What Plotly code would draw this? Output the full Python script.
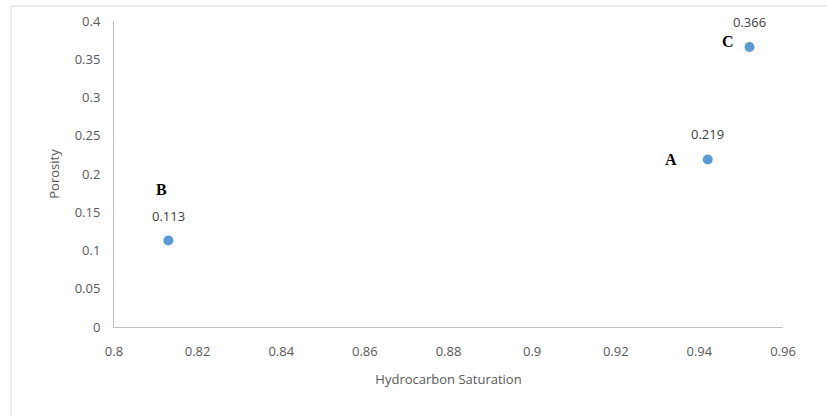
import plotly.graph_objects as go

names = ["A", "B", "C"]
saturation = [0.942, 0.813, 0.952]
porosity = [0.219, 0.113, 0.366]
value_labels = ["0.219", "0.113", "0.366"]
x_ticks = [0.8, 0.82, 0.84, 0.86, 0.88, 0.9, 0.92, 0.94, 0.96]
y_ticks = [0, 0.05, 0.1, 0.15, 0.2, 0.25, 0.3, 0.35, 0.4]

# letter offsets (pixels) relative to each point
letter_shift = {"A": (-37, 0), "B": (-7, 51), "C": (-22, 6)}

fig = go.Figure()
fig.add_trace(go.Scatter(
    x=saturation, y=porosity, mode="markers",
    marker=dict(size=10, color="#5B9BD5"),
    cliponaxis=False, showlegend=False,
))

for x, y, v in zip(saturation, porosity, value_labels):
    fig.add_annotation(x=x, y=y, text=v, showarrow=False, yshift=25,
                       font=dict(family="Open Sans", size=13, color="#404040"))

for n, x, y in zip(names, saturation, porosity):
    dx, dy = letter_shift[n]
    fig.add_annotation(x=x, y=y, text="<b>" + n + "</b>", showarrow=False, xshift=dx, yshift=dy,
                       font=dict(family="Liberation Serif", size=16, color="#000000"))

# outer chart border
fig.add_shape(type="rect", xref="paper", yref="paper", x0=-0.154, x1=1.2, y0=-0.5, y1=1.049,
              line=dict(color="#D9D9D9", width=1), layer="below")

axis_font = dict(family="Open Sans", size=13, color="#595959")
fig.update_layout(
    width=827, height=416,
    margin=dict(l=114, r=44, t=21, b=89),
    paper_bgcolor="white", plot_bgcolor="white",
    xaxis=dict(range=[0.8, 0.96], tickvals=x_ticks, showgrid=False, zeroline=False,
               showline=True, linecolor="#BFBFBF", ticks="", tickfont=axis_font,
               ticklabelstandoff=12, automargin=False,
               title=dict(text="Hydrocarbon Saturation", font=axis_font, standoff=16)),
    yaxis=dict(range=[0, 0.4], tickvals=y_ticks, showgrid=False, zeroline=False,
               showline=True, linecolor="#BFBFBF", ticks="", tickfont=axis_font,
               ticklabelstandoff=10, automargin=False,
               title=dict(text="Porosity", font=axis_font, standoff=12)),
)

fig.write_html("out.html", config={"displayModeBar": False},
               post_script="document.body.style.margin='0';")
